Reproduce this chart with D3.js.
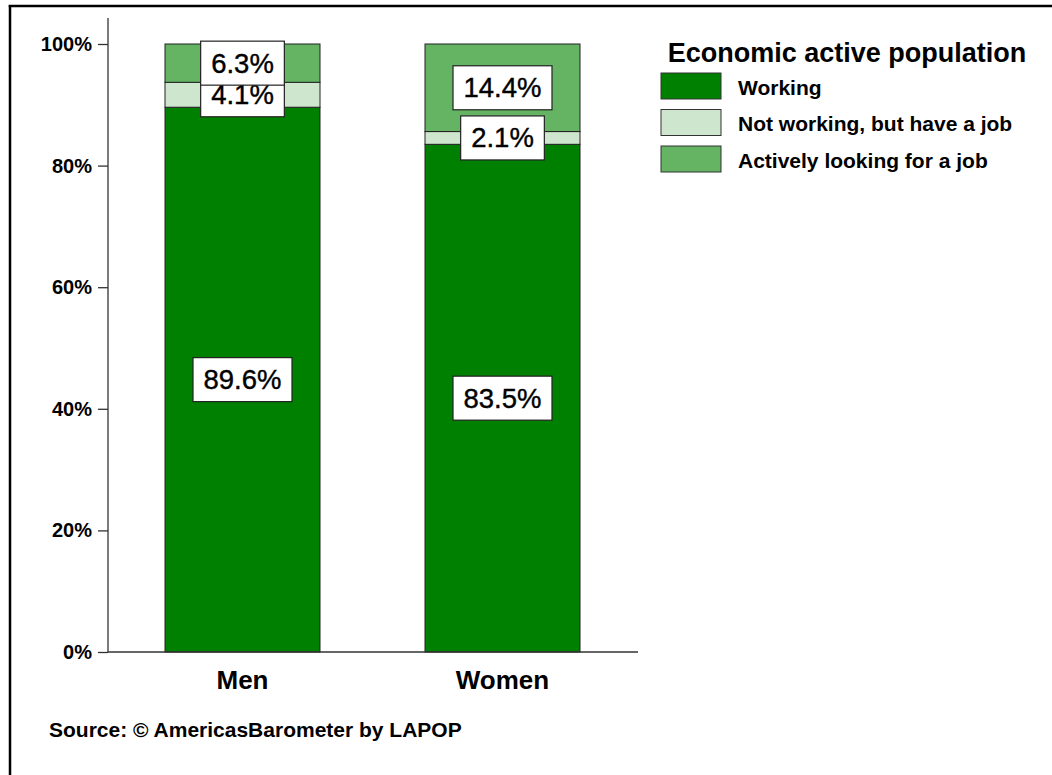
<!DOCTYPE html>
<html>
<head>
<meta charset="utf-8">
<script src="https://cdn.jsdelivr.net/npm/d3@7/dist/d3.min.js"></script>
<style>
  html, body { margin: 0; padding: 0; background: #fff; }
  svg { display: block; }
  text { font-family: "Liberation Sans", Arial, sans-serif; }
</style>
</head>
<body>
<script>
const categories = ["Men", "Women"];
const seriesNames = ["Working", "Not working, but have a job", "Actively looking for a job"];
const working = [89.6, 83.5];
const notWorking = [4.1, 2.1];
const looking = [6.3, 14.4];
const yTicks = [0, 20, 40, 60, 80, 100];
const colors = ["#008000", "#cde6cd", "#64b464"];
const legendTitle = "Economic active population";
const sourceText = "Source: \u00A9 AmericasBarometer by LAPOP";

const W = 1052, H = 775;
const svg = d3.select("body").append("svg").attr("width", W).attr("height", H);

// frame (left and top)
svg.append("line").attr("x1", 10).attr("x2", 10).attr("y1", 5).attr("y2", H).attr("stroke", "#000").attr("stroke-width", 2.5);
svg.append("line").attr("x1", 8.75).attr("x2", W).attr("y1", 6).attr("y2", 6).attr("stroke", "#000").attr("stroke-width", 2.5);

const x0 = 108, x1 = 638, yTop = 44, yBot = 652;
const y = d3.scaleLinear().domain([0, 100]).range([yBot, yTop]);
const barX = d3.scaleBand().domain(categories).range([165, 580]).paddingInner(105 / 260);

const data = categories.map((c, i) => ({ cat: c, vals: [working[i], notWorking[i], looking[i]] }));
const stacked = d3.stack().keys([0, 1, 2]).value((d, k) => d.vals[k])(data);

// y axis
const yAxis = d3.axisLeft(y).tickValues(yTicks).tickFormat(d => d + "%").tickSize(10).tickPadding(6);
const yg = svg.append("g").attr("transform", `translate(${x0},0)`).call(yAxis);
yg.select(".domain").remove();
yg.selectAll(".tick line").attr("stroke", "#333").attr("stroke-width", 1.3);
yg.selectAll(".tick text").attr("font-size", 20).attr("font-weight", "bold").attr("fill", "#000")
  .attr("font-family", "'Liberation Sans', Arial, sans-serif");
svg.append("line").attr("x1", x0).attr("x2", x0).attr("y1", 18).attr("y2", yBot).attr("stroke", "#333").attr("stroke-width", 1.3);

// bars
stacked.forEach((s, k) => {
  svg.append("g").selectAll("rect").data(s).join("rect")
    .attr("x", d => barX(d.data.cat))
    .attr("width", barX.bandwidth())
    .attr("y", d => y(d[1]))
    .attr("height", d => y(d[0]) - y(d[1]))
    .attr("fill", colors[k])
    .attr("stroke", "#222").attr("stroke-width", 1);
});

// x axis line
svg.append("line").attr("x1", x0).attr("x2", x1).attr("y1", yBot).attr("y2", yBot).attr("stroke", "#333").attr("stroke-width", 1.3);

// category labels
svg.append("g").selectAll("text").data(categories).join("text")
  .attr("x", d => barX(d) + barX.bandwidth() / 2)
  .attr("y", 689)
  .attr("text-anchor", "middle")
  .attr("font-size", 26).attr("font-weight", "bold")
  .text(d => d);

// value labels, drawn in series order so later boxes overlap earlier ones
const labelG = svg.append("g");
stacked.forEach((s, k) => {
  s.forEach(d => {
    const cx = barX(d.data.cat) + barX.bandwidth() / 2;
    const cy = (y(d[0]) + y(d[1])) / 2;
    const g = labelG.append("g");
    const t = g.append("text").attr("x", cx).attr("y", cy).attr("text-anchor", "middle")
      .attr("dominant-baseline", "central").attr("font-size", 27.5).attr("fill", "#000")
      .attr("stroke", "#000").attr("stroke-width", 0.4)
      .text(d.data.vals[k].toFixed(1) + "%");
    const w = t.node().getComputedTextLength() + 21;
    g.insert("rect", "text").attr("x", cx - w / 2).attr("y", cy - 22).attr("width", w).attr("height", 44)
      .attr("fill", "#fff").attr("stroke", "#222").attr("stroke-width", 1.2);
  });
});

// legend
svg.append("text").attr("x", 847).attr("y", 62).attr("text-anchor", "middle")
  .attr("font-size", 27).attr("font-weight", "bold").text(legendTitle);
const lg = svg.append("g").selectAll("g").data(seriesNames).join("g")
  .attr("transform", (d, i) => `translate(661,${73 + i * 36.5})`);
lg.append("rect").attr("width", 60).attr("height", 26).attr("fill", (d, i) => colors[i])
  .attr("stroke", "#333").attr("stroke-width", 1);
lg.append("text").attr("x", 77).attr("y", 14).attr("dominant-baseline", "central")
  .attr("font-size", 21).attr("font-weight", "bold").text(d => d);

// source
svg.append("text").attr("x", 49).attr("y", 737).attr("font-size", 21).attr("font-weight", "bold").text(sourceText);
</script>
</body>
</html>
